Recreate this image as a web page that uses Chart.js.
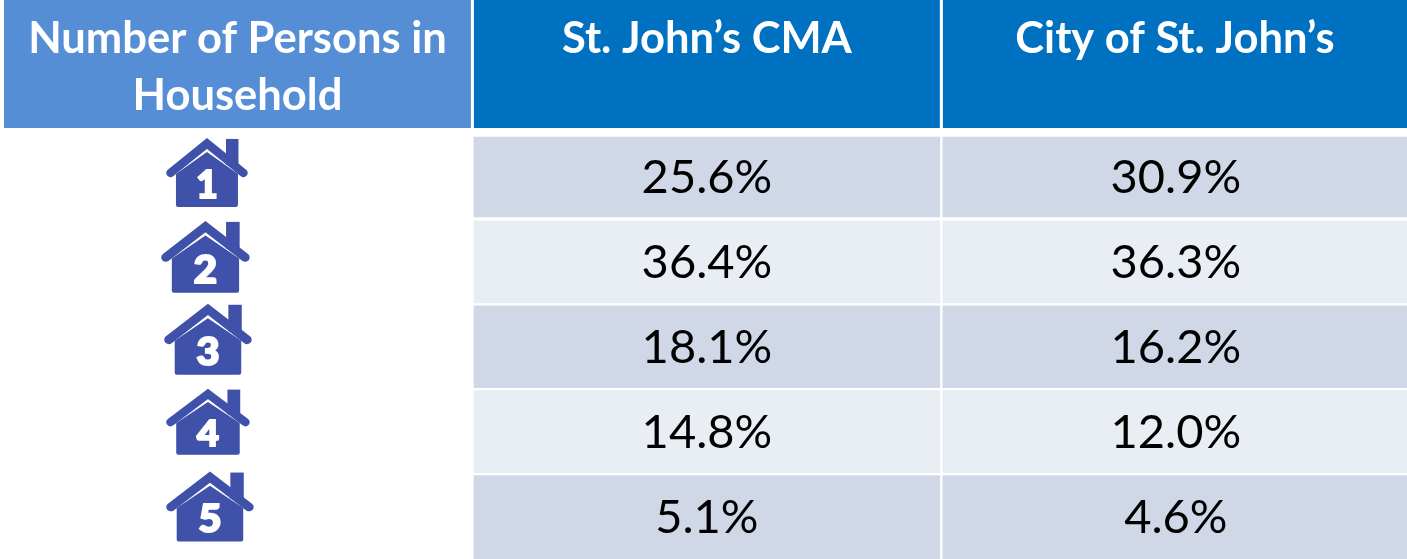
<!DOCTYPE html>
<html>
<head>
<meta charset="utf-8">
<title>Number of Persons in Household</title>
<script src="https://cdn.jsdelivr.net/npm/chart.js@4"></script>
<style>
  html, body { margin: 0; padding: 0; background: #fff; overflow: hidden; }
  #wrap { width: 1407px; height: 559px; }
</style>
</head>
<body>
<div id="wrap"><canvas id="table" width="1407" height="559"></canvas></div>
<script>
const householdSizes = ["1", "2", "3", "4", "5"];
const cmaShare = [25.6, 36.4, 18.1, 14.8, 5.1];
const cityShare = [30.9, 36.3, 16.2, 12.0, 4.6];
const headers = [["Number of Persons in", "Household"], ["St. John’s CMA"], ["City of St. John’s"]];

const headerColors = ["#558ed5", "#0070c0", "#0070c0"];
const rowColors = ["#d0d8e8", "#e9edf4"];
const iconBlue = "#3f51a8";

// the icons in the picture are not quite the same size or centred, [dx, dy, w, h]
const iconBoxes = [
  [-72, -39, 82, 69],
  [-77, -41, 89, 72],
  [-74, -43, 88, 71],
  [-72, -43, 84, 66],
  [-72, -45, 88, 70],
];

function drawHouse(ctx, x, y, w, h, digit) {
  ctx.save();
  ctx.translate(x, y);
  const sx = w / 82, sy = h / 69;
  ctx.scale(sx, sy);
  ctx.fillStyle = iconBlue;
  ctx.strokeStyle = iconBlue;

  // chimney
  ctx.fillRect(60, 1, 12.5, 26);

  // roof
  ctx.lineWidth = 8.5;
  ctx.lineCap = "round";
  ctx.lineJoin = "miter";
  ctx.beginPath();
  ctx.moveTo(4.5, 35);
  ctx.lineTo(41, 5.5);
  ctx.lineTo(77.5, 35);
  ctx.stroke();

  // body
  ctx.beginPath();
  ctx.moveTo(10, 36);
  ctx.lineTo(41, 14);
  ctx.lineTo(72, 36);
  ctx.lineTo(72, 67);
  ctx.quadraticCurveTo(72, 69, 70, 69);
  ctx.lineTo(12, 69);
  ctx.quadraticCurveTo(10, 69, 10, 67);
  ctx.closePath();
  ctx.fill();

  ctx.fillStyle = "#fff";
  ctx.strokeStyle = "#fff";
  ctx.lineWidth = 2;
  ctx.font = "900 37px Lato";
  ctx.textAlign = "center";
  ctx.textBaseline = "alphabetic";
  ctx.fillText(digit, 41, 60);
  ctx.strokeText(digit, 41, 60);
  ctx.restore();
}

const tablePlugin = {
  id: "tablePlugin",
  beforeDatasetsDraw(chart) {
    const { ctx, scales } = chart;
    const x = scales.x;
    ctx.save();
    headers.forEach((lines, col) => {
      const left = x.getPixelForValue(col) + (col === 0 ? 0.5 : 1.5);
      const right = Math.min(x.getPixelForValue(col + 1) - 1.5, chart.width);
      ctx.fillStyle = headerColors[col];
      ctx.fillRect(left, 0, right - left, 128);

      ctx.fillStyle = "#fff";
      ctx.font = "bold 43.5px Lato";
      ctx.textAlign = "center";
      ctx.textBaseline = "alphabetic";
      lines.forEach((line, i) => {
        ctx.fillText(line, (left + right) / 2, 53 + i * 57);
      });
    });
    ctx.restore();
  },
  afterDatasetsDraw(chart) {
    const { ctx, scales } = chart;
    const x = scales.x, y = scales.y;
    ctx.save();
    householdSizes.forEach((size, i) => {
      const rowY = y.getPixelForValue(i);
      ctx.fillStyle = "#000";
      ctx.font = "47px Lato";
      ctx.textAlign = "center";
      ctx.textBaseline = "alphabetic";
      ctx.fillText(cmaShare[i].toFixed(1) + "%", x.getPixelForValue(1.5), rowY + 16.5);
      ctx.fillText(cityShare[i].toFixed(1) + "%", x.getPixelForValue(2.5), rowY + 16.5);

      const box = iconBoxes[i];
      drawHouse(ctx, x.getPixelForValue(0.5) + box[0], rowY + box[1], box[2], box[3], size);
    });
    ctx.restore();
  },
};

function cellBorder(c) {
  const last = c.dataIndex === householdSizes.length - 1;
  const first = c.dataIndex === 0;
  return {
    left: 1.5,
    right: 1.5,
    top: first ? 2.5 : 1.5,
    bottom: last ? 0 : first ? 2.4 : 1.5,
  };
}

function cellDataset(label, col, shares) {
  return {
    label: label,
    data: shares.map(() => [col, col + 1]),
    backgroundColor: (c) => rowColors[c.dataIndex % 2],
    borderColor: "#fff",
    borderWidth: cellBorder,
    borderSkipped: false,
    barPercentage: 1,
    categoryPercentage: 1,
  };
}

new Chart(document.getElementById("table"), {
  type: "bar",
  data: {
    labels: householdSizes,
    datasets: [
      cellDataset("St. John’s CMA", 1, cmaShare),
      cellDataset("City of St. John’s", 2, cityShare),
    ],
  },
  plugins: [tablePlugin],
  options: {
    indexAxis: "y",
    responsive: false,
    animation: false,
    grouped: false,
    layout: { padding: { left: 3.5, top: 134.5, right: 0, bottom: 0 } },
    scales: {
      x: { type: "linear", min: 0, max: 2.993, display: false },
      y: { type: "category", display: false },
    },
    plugins: {
      legend: { display: false },
      tooltip: { enabled: false },
    },
  },
});
</script>
</body>
</html>
